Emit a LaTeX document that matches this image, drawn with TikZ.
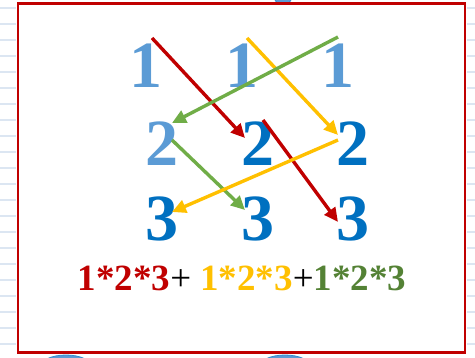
\documentclass[tikz,border=0pt]{standalone}
\usepackage{fontspec}
\setmainfont{Liberation Serif}
\usetikzlibrary{arrows.meta}
\definecolor{lblue}{HTML}{5B9BD5}
\definecolor{dblue}{HTML}{0070C0}
\definecolor{myred}{HTML}{C00000}
\definecolor{myyellow}{HTML}{FFC000}
\definecolor{mygreen}{HTML}{70AD47}
\definecolor{dgreen}{HTML}{548235}
\definecolor{gridc}{HTML}{DCE6F2}
\tikzset{
  big/.style={anchor=base, inner sep=0pt, font=\fontsize{66}{66}\selectfont\bfseries},
  arr/.style={line width=3.4pt, -{Triangle[length=14pt,width=13pt]}},
  frame/.style={draw=myred, line width=2.4pt},
  gridline/.style={draw=gridc, line width=1.6pt},
  blob/.style={fill=lblue, draw=dblue!80, line width=0.8pt}
}
\begin{document}
\begin{tikzpicture}[x=1pt,y=-1pt]
\useasboundingbox (0,0) rectangle (475,357);
\begin{scope}
\clip (0,0) rectangle (475,357);
% grid lines in margins
\foreach \yy in {8,24,...,360} {
  \draw[gridline] (0,\yy) -- (16,\yy);
  \draw[gridline] (467,\yy) -- (475,\yy);
}
% blobs
\draw[blob] (283,-4) ellipse (9 and 9);
\draw[blob] (66,367) ellipse (26 and 12);
\draw[blob] (285,367) ellipse (26 and 12);
\end{scope}
\draw[frame, fill=white] (18,3.5) rectangle (465,352.5);
% digits
\node[big, text=lblue] (a1) at (146,87) {1};
\node[big, text=lblue] (b1) at (242,87) {1};
\node[big, text=lblue] (c1) at (338,87) {1};
\node[big, text=lblue] (a2) at (162,165) {2};
\node[big, text=dblue] (b2) at (258,165) {2};
\node[big, text=dblue] (c2) at (353,165) {2};
\node[big, text=dblue] (a3) at (162,240) {3};
\node[big, text=dblue] (b3) at (258,240) {3};
\node[big, text=dblue] (c3) at (353,240) {3};
% arrow end points
\coordinate (r1s) at (152,38);  \coordinate (r1e) at (245,138);
\coordinate (y1s) at (247,38);  \coordinate (y1e) at (338,135);
\coordinate (g1s) at (338,37);  \coordinate (g1e) at (172,123);
\coordinate (g2s) at (172,140); \coordinate (g2e) at (245,210);
\coordinate (r2s) at (263,120); \coordinate (r2e) at (338,222);
\coordinate (y2s) at (338,140); \coordinate (y2e) at (172,212);
\draw[arr, myred] (r1s) -- (r1e);
\draw[arr, myyellow] (y1s) -- (y1e);
\draw[arr, mygreen] (g1s) -- (g1e);
\draw[arr, mygreen] (g2s) -- (g2e);
\draw[arr, myred] (r2s) -- (r2e);
\draw[arr, myyellow] (y2s) -- (y2e);
% formula
\node[anchor=base, inner sep=0pt, font=\fontsize{37}{37}\selectfont\bfseries] (f) at (242,290)
  {\textcolor{myred}{1*2*3}\textcolor{black}{\mdseries+} \textcolor{myyellow}{1*2*3}\textcolor{black}{\mdseries+}\textcolor{dgreen}{1*2*3}};
\end{tikzpicture}
\end{document}
